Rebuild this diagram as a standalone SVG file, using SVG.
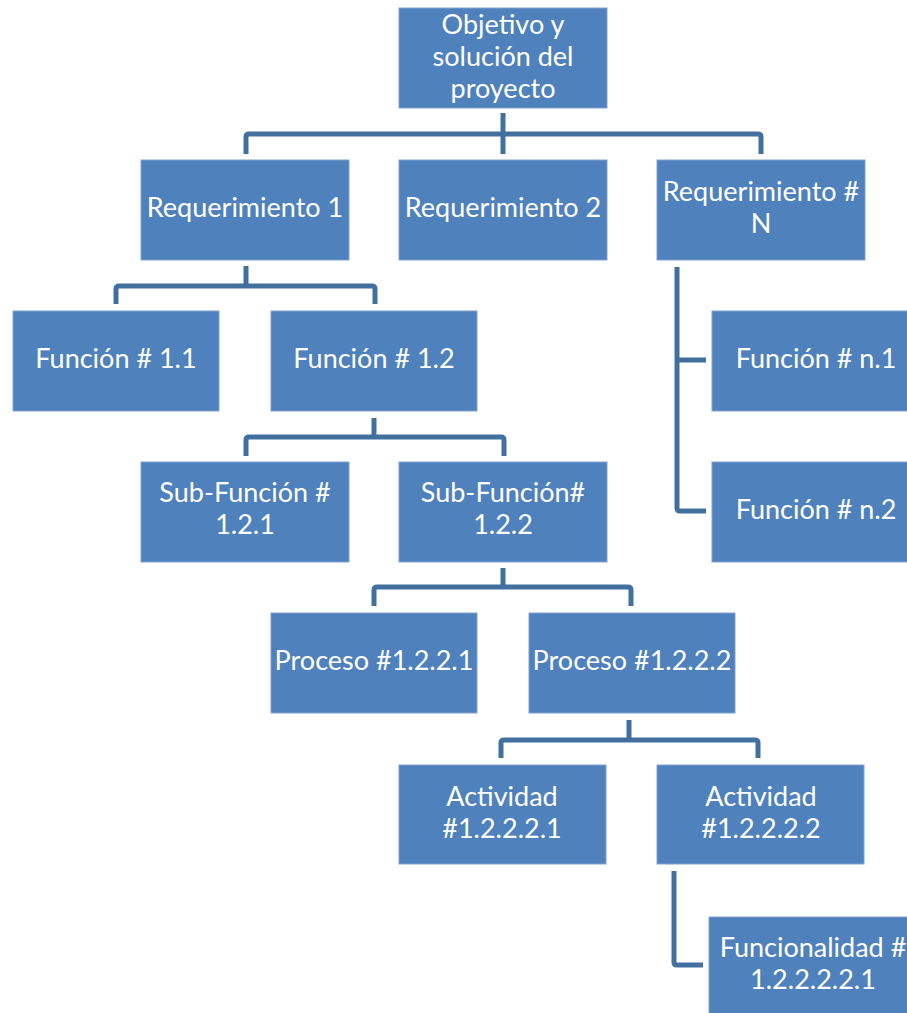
<svg xmlns="http://www.w3.org/2000/svg" width="907" height="1013" viewBox="0 0 907 1013">
<style>
.box{fill:#4F81BD;stroke:#7FA3D0;stroke-width:1}
.t{font-family:Lato,"Liberation Sans",sans-serif;font-size:27px;fill:#FFFFFF;text-anchor:middle}
.c{fill:none;stroke:#41709F;stroke-width:5;stroke-linejoin:round;stroke-linecap:butt}
</style>
<rect width="907" height="1013" fill="#FFFFFF"/>
<g id="connectors">
<path class="c" d="M503,113 V154 M246,154 V137 Q246,134 249,134 H758 Q761,134 761,137 V154"/>
<path class="c" d="M246,266 V286 M116,304 V289 Q116,286 119,286 H372 Q375,286 375,289 V304"/>
<path class="c" d="M374,418 V437 M246,456 V440 Q246,437 249,437 H501 Q504,437 504,440 V456"/>
<path class="c" d="M503,568 V587 M374,606 V590 Q374,587 377,587 H628 Q631,587 631,590 V606"/>
<path class="c" d="M629,720 V740 M501,758 V743 Q501,740 504,740 H755 Q758,740 758,743 V758"/>
<path class="c" d="M677,267 V508 Q677,511 680,511 H706 M677,360 H706"/>
<path class="c" d="M674,871 V962 Q674,965 677,965 H703"/>
</g>
<g id="root"><rect class="box" x="399" y="8" width="208" height="100"/><text class="t" x="503" y="34">Objetivo y</text><text class="t" x="503" y="66">solución del</text><text class="t" x="503" y="98">proyecto</text></g>
<g id="req1"><rect class="box" x="141" y="160" width="208" height="100"/><text class="t" x="245" y="217">Requerimiento 1</text></g>
<g id="req2"><rect class="box" x="399" y="160" width="208" height="100"/><text class="t" x="503" y="217">Requerimiento 2</text></g>
<g id="reqN"><rect class="box" x="657" y="160" width="208" height="100"/><text class="t" x="761" y="201">Requerimiento #</text><text class="t" x="761" y="233">N</text></g>
<g id="f11"><rect class="box" x="13" y="311" width="206" height="100"/><text class="t" x="116" y="368">Función # 1.1</text></g>
<g id="f12"><rect class="box" x="271" y="311" width="206" height="100"/><text class="t" x="374" y="368">Función # 1.2</text></g>
<g id="fn1"><rect class="box" x="712" y="311" width="208" height="100"/><text class="t" x="816" y="368">Función # n.1</text></g>
<g id="fn2"><rect class="box" x="712" y="462" width="208" height="100"/><text class="t" x="816" y="519">Función # n.2</text></g>
<g id="sf121"><rect class="box" x="141" y="462" width="208" height="100"/><text class="t" x="245" y="502">Sub-Función #</text><text class="t" x="245" y="534">1.2.1</text></g>
<g id="sf122"><rect class="box" x="399" y="462" width="208" height="100"/><text class="t" x="503" y="502">Sub-Función#</text><text class="t" x="503" y="534">1.2.2</text></g>
<g id="p1221"><rect class="box" x="271" y="613" width="206" height="100"/><text class="t" x="374" y="670">Proceso #1.2.2.1</text></g>
<g id="p1222"><rect class="box" x="529" y="613" width="206" height="100"/><text class="t" x="632" y="670">Proceso #1.2.2.2</text></g>
<g id="a1"><rect class="box" x="399" y="765" width="207" height="99"/><text class="t" x="502" y="806">Actividad</text><text class="t" x="502" y="838">#1.2.2.2.1</text></g>
<g id="a2"><rect class="box" x="657" y="765" width="207" height="99"/><text class="t" x="761" y="806">Actividad</text><text class="t" x="761" y="838">#1.2.2.2.2</text></g>
<g id="fun"><rect class="box" x="709" y="917" width="208" height="100"/><text class="t" x="813" y="957">Funcionalidad #</text><text class="t" x="813" y="989">1.2.2.2.2.1</text></g>
</svg>
